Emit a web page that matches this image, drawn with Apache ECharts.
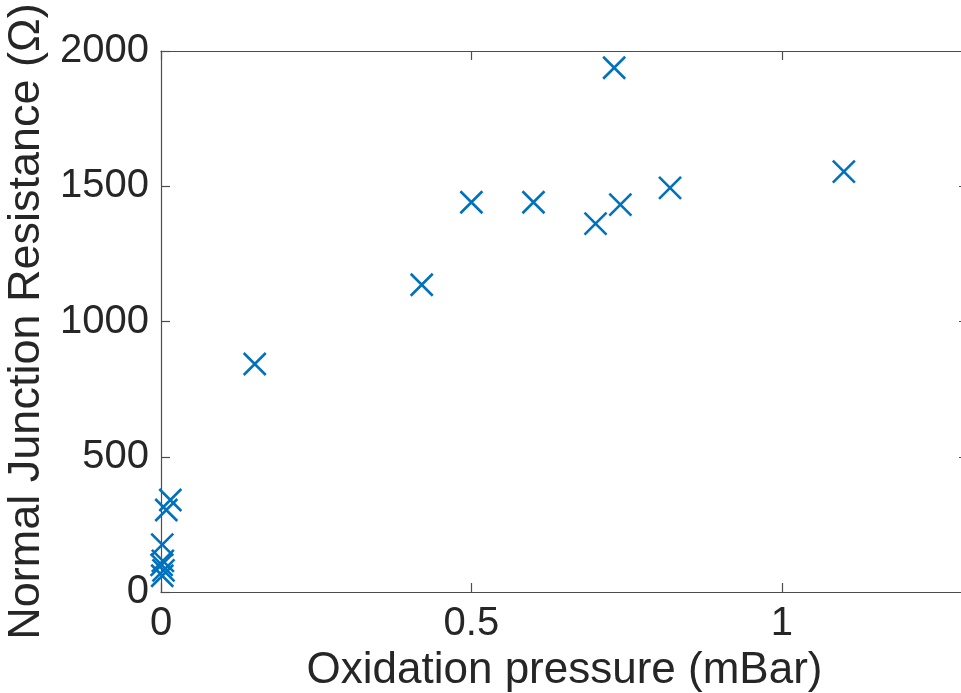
<!DOCTYPE html>
<html>
<head>
<meta charset="utf-8">
<script src="https://cdn.jsdelivr.net/npm/echarts@6/dist/echarts.min.js"></script>
<style>html,body{margin:0;padding:0;background:#fff;}#c{width:961px;height:693px;}</style>
</head>
<body>
<div id="c"></div>
<script>
var pressure = [0.151, 0.42, 0.50, 0.60, 0.70, 0.73, 0.74, 0.82, 1.10, 0.015, 0.0085, 0.002, 0.003, 0.001, 0.004, 0.002];
var resistance = [843, 1136, 1441, 1441, 1362, 1938, 1432, 1494, 1554, 340, 303, 175, 115, 100, 80, 60];
var xTicks = [0, 0.5, 1];
var yTicks = [0, 500, 1000, 1500, 2000];
var xTitle = 'Oxidation pressure (mBar)';
var yTitle = 'Normal Junction Resistance (\u03A9)';

var points = pressure.map(function (p, i) { return [p, resistance[i]]; });
var font = '"Liberation Sans", Arial, Helvetica, sans-serif';
var axisColor = '#4d4d4d';
var textColor = '#262626';

function frameAxis(extra) {
  var base = {
    type: 'value',
    axisLine: {show: true, onZero: false, lineStyle: {color: axisColor, width: 1.2}},
    axisTick: {show: true, inside: true, length: 9, lineStyle: {color: axisColor, width: 1.2}},
    splitLine: {show: false}
  };
  for (var k in extra) base[k] = extra[k];
  return base;
}

var chart = echarts.init(document.getElementById('c'), null, {renderer: 'canvas'});
chart.setOption({
  animation: false,
  backgroundColor: '#ffffff',
  grid: {left: 161, top: 51, bottom: 101, right: -7, containLabel: false, outerBoundsMode: 'none'},
  xAxis: [
    frameAxis({min: 0, max: 1.3, interval: 0.5, position: 'bottom',
      name: xTitle, nameLocation: 'middle', nameGap: 56,
      nameTextStyle: {fontFamily: font, fontSize: 44, color: textColor},
      axisLabel: {fontFamily: font, fontSize: 40, color: textColor, margin: 12,
        formatter: function (v) { return xTicks.indexOf(v) >= 0 ? String(v) : ''; }}}),
    frameAxis({min: 0, max: 1.3, interval: 0.5, position: 'top', axisLabel: {show: false}})
  ],
  yAxis: [
    frameAxis({min: 0, max: 2000, interval: 500, position: 'left',
      name: yTitle, nameLocation: 'middle', nameGap: 108, nameRotate: 90,
      nameTextStyle: {fontFamily: font, fontSize: 45, color: textColor},
      axisLabel: {fontFamily: font, fontSize: 40, color: textColor, margin: 12,
        formatter: function (v) { return yTicks.indexOf(v) >= 0 ? String(v) : ''; }}}),
    frameAxis({min: 0, max: 2000, interval: 500, position: 'right', axisLabel: {show: false}})
  ],
  series: [{
    type: 'scatter',
    xAxisIndex: 0, yAxisIndex: 0,
    data: points,
    symbol: 'path://M0,0 L10,10 M10,0 L0,10',
    symbolSize: 22,
    itemStyle: {color: 'rgba(0,0,0,0)', borderColor: '#0072BD', borderWidth: 2.6, opacity: 1},
    clip: false
  }]
});
</script>
</body>
</html>
